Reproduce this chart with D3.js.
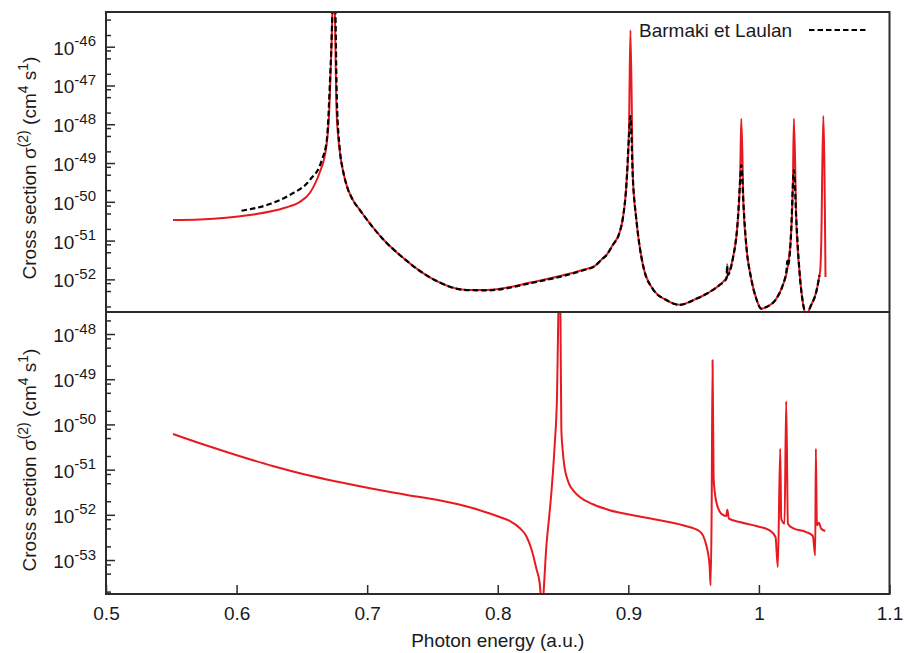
<!DOCTYPE html>
<html><head><meta charset="utf-8">
<script src="https://cdn.jsdelivr.net/npm/d3@7"></script>
<style>
body{margin:0;background:#fff}
text{font-family:"Liberation Sans",Arial,Helvetica,sans-serif;fill:#1a1a1a}
</style>
</head><body>
<svg id="chart" width="905" height="653"></svg>
<script>
// ---------- data ----------
const xTickValues = [0.5, 0.6, 0.7, 0.8, 0.9, 1.0, 1.1];
const xTickLabels = ["0.5", "0.6", "0.7", "0.8", "0.9", "1", "1.1"];
const topExponents = [-52, -51, -50, -49, -48, -47, -46];
const bottomExponents = [-53, -52, -51, -50, -49, -48];
const minorMantissas = [2, 5, 8];
const topDomain = [1.44e-53, 7.85e-46];
const bottomDomain = [1.77e-54, 3.07e-48];
const xDomain = [0.5, 1.1];
const legendLabel = "Barmaki et Laulan";
const xAxisTitle = "Photon energy (a.u.)";

// top panel, present calculation (red)
const topRedX = [0.5513,0.572,0.610,0.637,0.6485,0.6561,0.6638,0.6668,0.6689,0.6706,0.6727,0.6745,0.6766,0.6791,0.6814,0.6842,0.689,0.6944,0.6995,0.712,0.725,0.7503,0.776,0.7913,0.8268,0.865,0.8742,0.8772,0.8803,0.8832,0.888,0.8934,0.8957,0.8985,0.9005,0.9016,0.9035,0.9061,0.9112,0.9188,0.9291,0.9393,0.952,0.9622,0.9698,0.9762,0.98,0.9839,0.9857,0.9865,0.9882,0.9903,0.9941,0.998,1.0018,1.0056,1.0133,1.0183,1.0222,1.0248,1.026,1.0268,1.0286,1.0311,1.0336,1.0362,1.04,1.0439,1.0464,1.047,1.0477,1.0493,1.051];
const topRedY = [3.4e-51,3.5e-51,4.56e-51,7.0e-51,1.0e-50,1.69e-50,5.86e-50,1.19e-49,2.92e-49,1.29e-48,1.1e-46,1e-44,2.07e-48,1.92e-49,6.6e-50,2.71e-50,1.12e-50,6.14e-51,3.6e-51,1.1e-51,4.24e-52,1.02e-52,5.3e-53,5.3e-53,8.5e-53,1.74e-52,2.21e-52,2.72e-52,3.44e-52,4.24e-52,7.67e-52,1.66e-51,3.6e-51,2.71e-50,7.53e-49,2.65e-46,3.87e-50,3.6e-51,2.34e-52,5.62e-53,2.93e-53,2.21e-53,3.16e-53,4.71e-53,7.14e-53,1.29e-52,3.4e-52,3.6e-51,5.86e-50,1.39e-48,8.26e-51,7.67e-52,1.04e-52,3.16e-53,1.75e-53,1.93e-53,3.16e-53,7.14e-53,2.34e-52,1.99e-51,2.71e-50,1.39e-48,3.6e-51,1.55e-52,2.6e-53,1.26e-53,2.18e-53,4.71e-53,1.29e-52,1.74e-52,7.67e-52,1.63e-48,1.15e-52];

// top panel, Barmaki et Laulan (black dashed)
const topBlackX = [0.6038,0.6255,0.6408,0.6561,0.6653,0.6691,0.6722,0.6749,0.6768,0.6791,0.6814,0.6842,0.689,0.6944,0.712,0.725,0.7503,0.776,0.7913,0.8268,0.865,0.8742,0.8772,0.8803,0.8832,0.888,0.8934,0.8957,0.8985,0.9005,0.9016,0.9035,0.9061,0.9112,0.9188,0.9291,0.9393,0.952,0.9622,0.9698,0.9752,0.9757,0.9762,0.98,0.9839,0.9857,0.9865,0.9882,0.9903,0.9941,0.998,1.0018,1.0056,1.0133,1.0183,1.0212,1.0217,1.0222,1.0248,1.026,1.0268,1.0286,1.0311,1.0336,1.0362,1.04,1.0439,1.0464];
const topBlackY = [5.89e-51,8.77e-51,1.5e-50,3.65e-50,1.19e-49,3.93e-49,4.54e-47,1e-44,4.22e-48,2.17e-49,6.6e-50,2.71e-50,1.12e-50,6.14e-51,1.1e-51,4.24e-52,1.02e-52,5.3e-53,5.2e-53,8.2e-53,1.7e-52,2.18e-52,2.7e-52,3.4e-52,4.2e-52,7.6e-52,1.66e-51,3.6e-51,2.71e-50,5e-49,1.63e-48,3.87e-50,3.6e-51,2.34e-52,5.62e-53,2.93e-53,2.21e-53,3.16e-53,4.71e-53,7.14e-53,1.05e-52,2.4e-52,1.29e-52,3.4e-52,3.6e-51,4e-50,8.9e-50,8.26e-51,7.67e-52,1.04e-52,3.16e-53,1.75e-53,1.93e-53,3.16e-53,7.14e-53,1.8e-52,3.0e-52,2.34e-52,1.99e-51,2.71e-50,6.6e-50,3.6e-51,1.55e-52,2.6e-53,1.26e-53,2.18e-53,4.71e-53,1.29e-52];

// bottom panel (red)
const bottomRedX = [0.5513,0.5765,0.602,0.6276,0.6531,0.6785,0.7041,0.7296,0.7551,0.7806,0.7933,0.8015,0.8092,0.8168,0.8222,0.826,0.8296,0.832,0.8339,0.8373,0.8411,0.8436,0.8454,0.8464,0.8472,0.848,0.8487,0.8497,0.8513,0.8528,0.8551,0.8582,0.8628,0.8729,0.8857,0.9035,0.924,0.9418,0.9546,0.9597,0.9622,0.963,0.9638,0.9645,0.9653,0.9674,0.9712,0.975,0.9758,0.977,0.9852,0.998,1.0082,1.0127,1.0145,1.0163,1.0171,1.0196,1.0209,1.0222,1.026,1.0362,1.0413,1.0431,1.0436,1.0444,1.0459,1.0477,1.0508];
const bottomRedY = [6.14e-51,3.45e-51,2.0e-51,1.2e-51,7.7e-52,5.32e-52,3.78e-52,2.79e-52,2.09e-52,1.41e-52,1.08e-52,8.93e-53,7.3e-53,5.1e-53,3.23e-53,1.66e-53,6.41e-54,3.26e-54,1.0e-54,2.15e-53,3.19e-52,3.5e-51,4.47e-50,3.07e-48,1e-46,3.07e-48,8.04e-51,2.72e-51,1.05e-51,6.86e-52,4.5e-52,3.36e-52,2.48e-52,1.71e-52,1.26e-52,9.75e-53,7.55e-53,5.86e-53,4.32e-53,2.11e-53,7.64e-54,2.75e-54,1.15e-52,2.62e-49,6.3e-52,1.92e-52,1.06e-52,9.4e-53,1.3e-52,8.2e-53,6.93e-53,5.65e-53,4.54e-53,3.23e-53,7.0e-54,2.9e-51,8.2e-53,6.35e-53,3.24e-50,6.35e-53,5.1e-53,4.16e-53,3.4e-53,1.27e-53,2.9e-51,5.86e-53,6.68e-53,4.92e-53,4.39e-53];

// ---------- layout ----------
const L = 106, R = 889.5, T = 12, M = 312, B = 594;
const RED = "#e8191f", AX = "#2b2b2b", FS = 19;

const svg = d3.select("#chart");
const x = d3.scaleLinear().domain(xDomain).range([L, R]);
const yTop = d3.scaleLog().domain(topDomain).range([M, T]);
const yBot = d3.scaleLog().domain(bottomDomain).range([B, M]);

const defs = svg.append("defs");
defs.append("clipPath").attr("id","clipTop").append("rect").attr("x",L).attr("y",T).attr("width",R-L).attr("height",M-T);
defs.append("clipPath").attr("id","clipBot").append("rect").attr("x",L).attr("y",M).attr("width",R-L).attr("height",B-M);

function zip(xs, ys){ return xs.map((v,i)=>[v, ys[i]]); }
function lineFor(ys){ return d3.line().x(d=>x(d[0])).y(d=>ys(d[1])).curve(d3.curveMonotoneX); }

// curves
const gTop = svg.append("g").attr("clip-path","url(#clipTop)");
gTop.append("path").datum(zip(topRedX, topRedY)).attr("d", lineFor(yTop))
  .attr("fill","none").attr("stroke",RED).attr("stroke-width",2).attr("stroke-linejoin","round");
gTop.append("path").datum(zip(topBlackX, topBlackY)).attr("d", lineFor(yTop))
  .attr("fill","none").attr("stroke","#000").attr("stroke-width",2.2).attr("stroke-dasharray","5.5,3");

const gBot = svg.append("g").attr("clip-path","url(#clipBot)");
gBot.append("path").datum(zip(bottomRedX, bottomRedY)).attr("d", lineFor(yBot))
  .attr("fill","none").attr("stroke",RED).attr("stroke-width",2).attr("stroke-linejoin","round");

// y axes
function minorTicks(dom){
  const out=[];
  const lo = Math.floor(Math.log10(dom[0])), hi = Math.ceil(Math.log10(dom[1]));
  for(let e=lo;e<=hi;e++) minorMantissas.forEach(m=>{ const v=m*Math.pow(10,e); if(v>=dom[0]&&v<=dom[1]) out.push(v); });
  return out;
}
function yAxis(scale, exps, dom){
  const majors = exps.map(e=>Math.pow(10,e));
  const g = svg.append("g").attr("transform",`translate(${L},0)`);
  g.call(d3.axisLeft(scale).tickValues(majors).tickSize(-9).tickFormat(""));
  g.call(gg=>gg.select(".domain").remove());
  const g2 = svg.append("g").attr("transform",`translate(${L},0)`);
  g2.call(d3.axisLeft(scale).tickValues(minorTicks(dom)).tickSize(-5).tickFormat(""));
  g2.call(gg=>gg.select(".domain").remove());
  svg.selectAll(null).data(exps).join("text")
    .attr("x", 96).attr("y", e=>scale(Math.pow(10,e))+8)
    .attr("text-anchor","end").attr("font-size",FS)
    .each(function(e){
      const t=d3.select(this);
      t.append("tspan").text("10");
      t.append("tspan").attr("dy",-8.5).attr("font-size",15).text(String(e));
    });
  [g,g2].forEach(a=>a.selectAll("line").attr("stroke",AX).attr("stroke-width",1.5));
}
yAxis(yTop, topExponents, topDomain);
yAxis(yBot, bottomExponents, bottomDomain);

// x axis
const gx = svg.append("g").attr("transform",`translate(0,${B})`)
  .call(d3.axisBottom(x).tickValues(xTickValues).tickSize(-9).tickPadding(13).tickFormat((d,i)=>xTickLabels[i]));
gx.select(".domain").remove();
gx.selectAll("line").attr("stroke",AX).attr("stroke-width",1.5);
gx.selectAll("text").attr("font-size",FS).attr("font-family",null).attr("fill","#1a1a1a");

// frame
const frame = svg.append("g").attr("fill","none").attr("stroke",AX).attr("stroke-width",2);
frame.append("rect").attr("x",L).attr("y",T).attr("width",R-L).attr("height",B-T);
frame.append("line").attr("x1",L).attr("x2",R).attr("y1",M).attr("y2",M);

// y titles
function yTitle(cy){
  const t = svg.append("text").attr("transform",`translate(36,${cy}) rotate(-90)`)
    .attr("text-anchor","middle").attr("font-size",FS);
  t.append("tspan").text("Cross section \u03c3");
  t.append("tspan").attr("dy",-8).attr("font-size",14).text("(2)");
  t.append("tspan").attr("dy",8).text(" (cm");
  t.append("tspan").attr("dy",-8).attr("font-size",14).text("4");
  t.append("tspan").attr("dy",8).text(" s");
  t.append("tspan").attr("dy",-8).attr("font-size",14).text("1");
  t.append("tspan").attr("dy",8).text(")");
}
yTitle((T+M)/2+6);
yTitle((M+B)/2+7);

// x title
svg.append("text").attr("x",(L+R)/2).attr("y",647).attr("text-anchor","middle")
  .attr("font-size",FS).text(xAxisTitle);

// legend
svg.append("text").attr("x",639).attr("y",37).attr("font-size",FS).text(legendLabel);
svg.append("line").attr("x1",809).attr("x2",866).attr("y1",30).attr("y2",30)
  .attr("stroke","#000").attr("stroke-width",2.2).attr("stroke-dasharray","5.5,3");
</script>
</body></html>
